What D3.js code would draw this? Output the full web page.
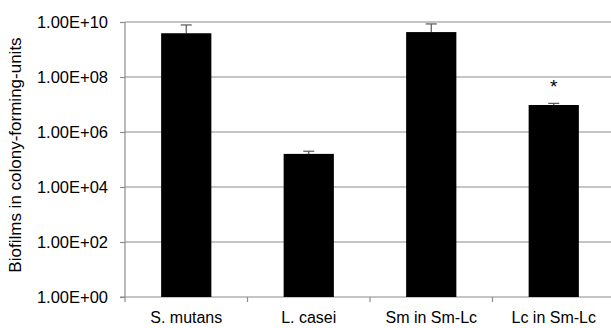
<!DOCTYPE html>
<html>
<head>
<meta charset="utf-8">
<script src="https://cdn.jsdelivr.net/npm/d3@7/dist/d3.min.js"></script>
<style>
  html, body { margin: 0; padding: 0; background: #fff; }
  svg { display: block; font-family: Arial, "Liberation Sans", sans-serif; }
</style>
</head>
<body>
<svg id="chart" width="611" height="328"></svg>
<script>
// Biofilm counts (CFU) per strain / co-culture
const categories = ["S. mutans", "L. casei", "Sm in Sm-Lc", "Lc in Sm-Lc"];
const means = [3.9e9, 1.6e5, 4.3e9, 9.6e6];
const errorTops = [7.8e9, 2.0e5, 8.5e9, 1.1e7];
const significance = ["", "", "", "*"];
const yTicks = [1e0, 1e2, 1e4, 1e6, 1e8, 1e10];
const yTickLabels = ["1.00E+00", "1.00E+02", "1.00E+04", "1.00E+06", "1.00E+08", "1.00E+10"];

const svg = d3.select("#chart");
const margin = { left: 125, top: 22, right: -4, bottom: 31 };
const W = 611, H = 328;
const plotRight = W - margin.right;
const plotBottom = H - margin.bottom;

const x = d3.scaleBand().domain(categories).range([margin.left, plotRight]).paddingInner(0.59).paddingOuter(0.295);
const xOuter = d3.scaleBand().domain(categories).range([margin.left, plotRight]);
const y = d3.scaleLog().domain([1e0, 1e10]).range([plotBottom, margin.top]);

const grid = "#8c8c8c";

// horizontal gridlines
svg.append("g").selectAll("line").data(yTicks.slice(1)).join("line")
  .attr("x1", margin.left).attr("x2", W)
  .attr("y1", d => y(d)).attr("y2", d => y(d))
  .attr("stroke", grid).attr("stroke-width", 1.2);

// y axis
const yAxis = d3.axisLeft(y).tickValues(yTicks)
  .tickFormat((d, i) => yTickLabels[i]).tickSize(5).tickPadding(12);
const gy = svg.append("g").attr("transform", `translate(${margin.left},0)`).call(yAxis);
gy.select(".domain").remove();
gy.selectAll(".tick line").attr("stroke", grid).attr("stroke-width", 1.2);
gy.selectAll(".tick text").attr("fill", "#000").attr("font-size", 16.5)
  .attr("font-family", "Arial, 'Liberation Sans', sans-serif");
svg.append("line").attr("x1", margin.left).attr("x2", margin.left)
  .attr("y1", margin.top).attr("y2", plotBottom + 5)
  .attr("stroke", grid).attr("stroke-width", 1.2);

// x axis with boundary ticks between categories
svg.append("line").attr("x1", margin.left - 5).attr("x2", W)
  .attr("y1", plotBottom).attr("y2", plotBottom)
  .attr("stroke", grid).attr("stroke-width", 1.2);
svg.append("g").selectAll("line").data(categories.slice(1)).join("line")
  .attr("x1", d => xOuter(d)).attr("x2", d => xOuter(d))
  .attr("y1", plotBottom).attr("y2", plotBottom + 5)
  .attr("stroke", grid).attr("stroke-width", 1.2);
svg.append("g").selectAll("text").data(categories).join("text")
  .attr("x", d => x(d) + x.bandwidth() / 2)
  .attr("y", plotBottom + 26)
  .attr("text-anchor", "middle").attr("font-size", 16).attr("fill", "#000")
  .text(d => d);

// error bars (upper only)
const eb = svg.append("g");
categories.forEach((c, i) => {
  const cx = x(c) + x.bandwidth() / 2;
  eb.append("line").attr("x1", cx).attr("x2", cx)
    .attr("y1", y(means[i])).attr("y2", y(errorTops[i]))
    .attr("stroke", "#555").attr("stroke-width", 1.2);
  eb.append("line").attr("x1", cx - 5.5).attr("x2", cx + 5.5)
    .attr("y1", y(errorTops[i])).attr("y2", y(errorTops[i]))
    .attr("stroke", "#555").attr("stroke-width", 1.2);
});

// bars
svg.append("g").selectAll("rect").data(categories).join("rect")
  .attr("x", d => x(d))
  .attr("width", x.bandwidth())
  .attr("y", (d, i) => y(means[i]))
  .attr("height", (d, i) => plotBottom - y(means[i]))
  .attr("fill", "#000");

// significance markers
svg.append("g").selectAll("text").data(categories).join("text")
  .attr("x", d => x(d) + x.bandwidth() / 2)
  .attr("y", (d, i) => y(errorTops[i]) - 10)
  .attr("text-anchor", "middle").attr("font-size", 19).attr("fill", "#000")
  .text((d, i) => significance[i]);

// y axis title
svg.append("text")
  .attr("transform", `translate(21,155) rotate(-90)`)
  .attr("text-anchor", "middle").attr("font-size", 17).attr("fill", "#000")
  .text("Biofilms in colony-forming-units");
</script>
</body>
</html>
